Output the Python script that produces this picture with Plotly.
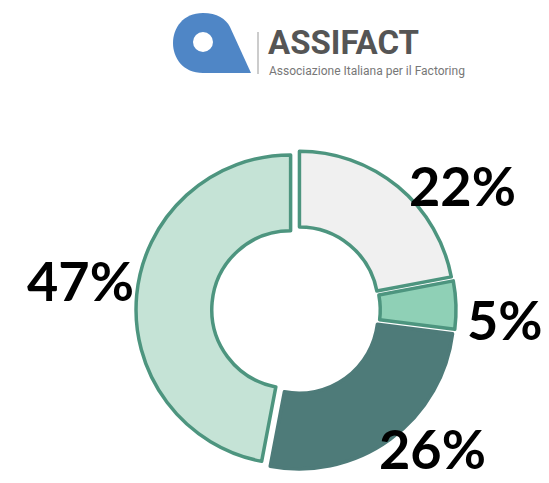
import plotly.graph_objects as go

# Share of each segment (percent), clockwise from 12 o'clock
labels = ["Segmento A", "Segmento B", "Segmento C", "Segmento D"]
values = [22, 5, 26, 47]
fill_colors = ["#f0f0f0", "#8fd0b6", "#4e7b79", "#c5e3d6"]
edge_colors = ["#4d957f", "#4d957f", "#4e7b79", "#4d957f"]

# Where each percentage label sits (paper coords)
label_pos = [(0.842, 0.615), (0.92, 0.338), (0.787, 0.072), (0.147, 0.42)]

W, H = 549, 483
cx, cy, half = 296, 310, 160  # pixel centre and half-size of the pie domain

fig = go.Figure()
fig.add_trace(go.Pie(
    labels=labels,
    values=values,
    sort=False,
    direction="clockwise",
    rotation=0,
    hole=0.51,
    pull=[0.035] * len(values),
    marker=dict(colors=fill_colors, line=dict(color=edge_colors, width=3.5)),
    textinfo="none",
    hoverinfo="label+percent",
    showlegend=False,
    domain=dict(x=[(cx - half) / W, (cx + half) / W],
                y=[1 - (cy + half) / H, 1 - (cy - half) / H]),
))

annotations = []
for v, (ax, ay) in zip(values, label_pos):
    annotations.append(dict(
        x=ax, y=ay, xref="paper", yref="paper", showarrow=False,
        text=f"{v}%", xanchor="center", yanchor="middle",
        font=dict(family="Lato", size=54, color="#000000", weight="bold"),
    ))

# Association logo: wordmark and tagline
annotations.append(dict(
    x=266 / W, y=1 - 43 / H, xref="paper", yref="paper", showarrow=False,
    text="ASSIFACT", xanchor="left", yanchor="middle",
    font=dict(family="Roboto", size=33, color="#555555", weight="bold"),
))
annotations.append(dict(
    x=267 / W, y=1 - 71 / H, xref="paper", yref="paper", showarrow=False,
    text="Associazione Italiana per il Factoring", xanchor="left", yanchor="middle",
    font=dict(family="Roboto", size=12, color="#777777"),
))


def px(x, y):
    return f"{x / W:.5f},{1 - y / H:.5f}"


# blue "a" mark: round bowl on the left, slanted stem down to the right
logo_path = (
    f"M {px(203, 73)} "
    f"C {px(163, 73)} {px(163, 13)} {px(203, 13)} "
    f"C {px(217, 13)} {px(226, 19)} {px(230, 27)} "
    f"L {px(251, 73)} Z"
)

shapes = [
    dict(type="path", xref="paper", yref="paper", layer="above",
         path=logo_path, fillcolor="#4f86c6", line=dict(width=0)),
    dict(type="circle", xref="paper", yref="paper", layer="above",
         x0=193 / W, x1=213 / W, y0=1 - 52 / H, y1=1 - 32 / H,
         fillcolor="#ffffff", line=dict(width=0)),
    # divider line
    dict(type="line", xref="paper", yref="paper",
         x0=258 / W, x1=258 / W, y0=1 - 32 / H, y1=1 - 74 / H,
         line=dict(color="#bbbbbb", width=1.5)),
]

fig.update_layout(
    width=W, height=H,
    margin=dict(l=0, r=0, t=0, b=0),
    paper_bgcolor="#ffffff",
    plot_bgcolor="#ffffff",
    annotations=annotations,
    shapes=shapes,
)

fig.write_html("out.html")
